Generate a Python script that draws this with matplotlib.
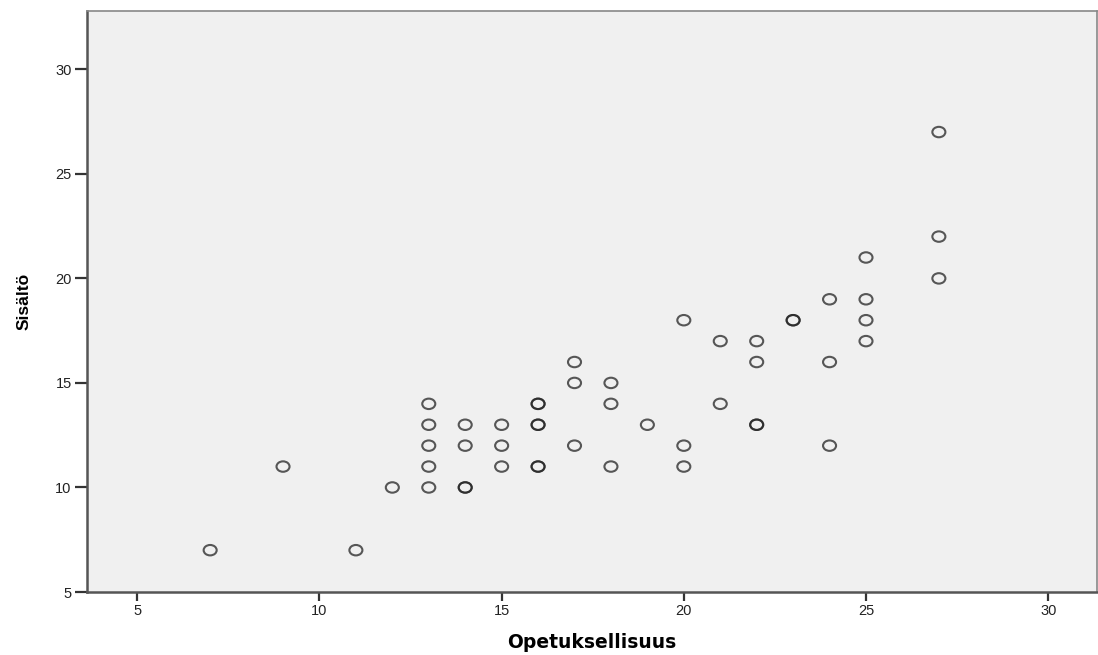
import matplotlib
matplotlib.use("Agg")
import matplotlib.pyplot as plt
import numpy as np
from matplotlib.path import Path

# Data (Opetuksellisuus, Sisältö); duplicates are overlapping points
opetuksellisuus = [7, 9, 11, 12, 13, 13, 13, 13, 13, 14, 14, 14, 14,
                   15, 15, 15, 16, 16, 16, 16, 16, 16, 17, 17, 17,
                   18, 18, 18, 19, 20, 20, 20, 21, 21, 22, 22, 22, 22,
                   23, 23, 24, 24, 24, 25, 25, 25, 25, 27, 27, 27]
sisalto = [7, 11, 7, 10, 10, 11, 12, 13, 14, 10, 10, 12, 13,
           11, 12, 13, 11, 11, 13, 13, 14, 14, 12, 15, 16,
           11, 14, 15, 13, 11, 12, 18, 14, 17, 13, 13, 16, 17,
           18, 18, 12, 16, 19, 17, 18, 19, 21, 20, 22, 27]
ticks = [5, 10, 15, 20, 25, 30]

# slightly wide ellipse marker (reference is horizontally stretched)
circ = Path.unit_circle()
ell = Path(circ.vertices * np.array([1.0, 0.8]), circ.codes)

fig = plt.figure(figsize=(10.98, 6.55), dpi=100)
ax = fig.add_axes([87/1098, 1 - 592/655, (1097-87)/1098, (592-11)/655])
ax.set_facecolor("#F0F0F0")
ax.scatter(opetuksellisuus, sisalto, s=88, marker=ell, facecolors="none",
           edgecolors="#222222", linewidths=1.5, alpha=0.75, zorder=3)

ax.set_xlim(3.62, 31.34)
ax.set_ylim(5, 32.79)
ax.set_xticks(ticks)
ax.set_yticks(ticks)
for sp in ["left", "bottom"]:
    ax.spines[sp].set_linewidth(1.8)
    ax.spines[sp].set_color("#555555")
for sp in ["top", "right"]:
    ax.spines[sp].set_linewidth(1.2)
    ax.spines[sp].set_color("#888888")
ax.tick_params(axis="both", direction="out", width=1.6, color="#333333",
               labelsize=10.5, labelcolor="#222222", pad=2)
ax.tick_params(axis="y", length=9)
ax.tick_params(axis="x", length=6.5)
for lab in ax.get_xticklabels() + ax.get_yticklabels():
    lab.set_fontfamily("Liberation Sans")

ax.set_xlabel("Opetuksellisuus", fontsize=13.5, fontweight="bold",
              family="DejaVu Sans", labelpad=11)
ax.set_ylabel("Sisältö", fontsize=12.5, fontweight="bold",
              family="Liberation Sans", labelpad=17)

fig.savefig("out.png", dpi=100)
